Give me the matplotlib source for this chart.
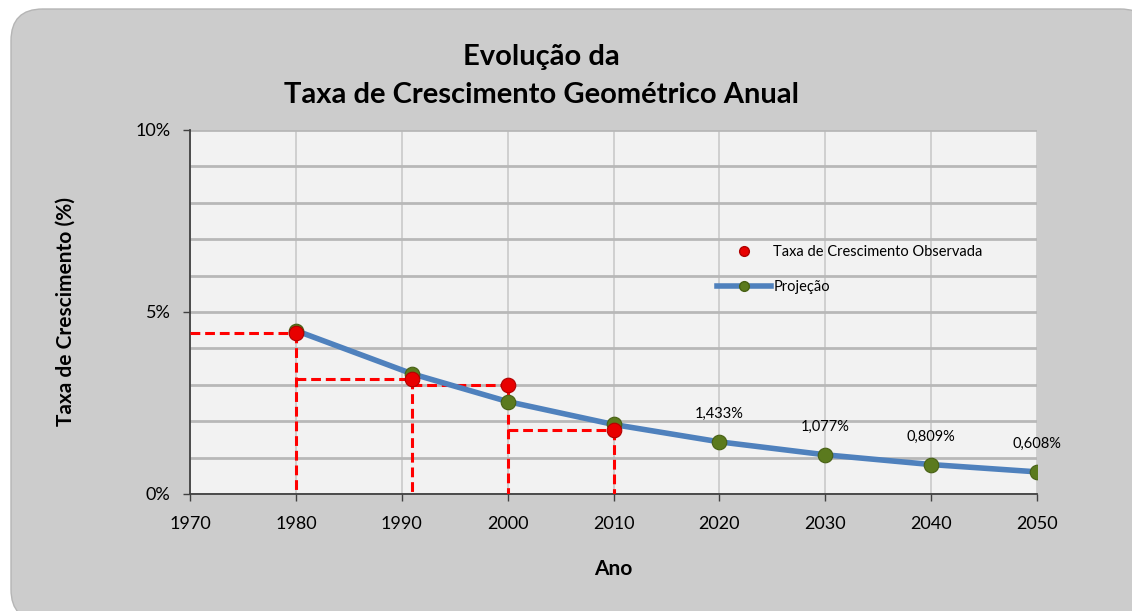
import matplotlib.pyplot as plt
from matplotlib.patches import FancyBboxPatch
from matplotlib.lines import Line2D
from matplotlib.ticker import FixedLocator, FuncFormatter

plt.rcParams['font.family'] = ['Lato', 'DejaVu Sans']

# observed growth rates (%)
obs_years = [1980, 1991, 2000, 2010]
obs_rates = [4.42, 3.16, 2.99, 1.76]

# projection (%)
proj_years = [1980, 1991, 2000, 2010, 2020, 2030, 2040, 2050]
proj_rates = [4.49, 3.30, 2.54, 1.91, 1.433, 1.077, 0.809, 0.608]
proj_labels = ['', '', '', '', '1,433%', '1,077%', '0,809%', '0,608%']

W, H = 1132, 611
fig = plt.figure(figsize=(W / 100, H / 100), dpi=100)
fig.patch.set_facecolor('white')

# rounded grey chart area
bg = FancyBboxPatch((11 / W, -10 / H), (W + 20 - 11) / W, (H + 10 - 9) / H,
                    boxstyle='round,pad=0,rounding_size=0.028',
                    mutation_aspect=W / H,
                    transform=fig.transFigure, facecolor='#cccccc',
                    edgecolor='#b5b5b5', linewidth=1, zorder=-5)
fig.patches.append(bg)

ax = fig.add_axes([190 / W, 1 - 494 / H, (1037 - 190) / W, (494 - 130) / H])
ax.set_zorder(2)
ax.set_facecolor('#f2f2f2')
ax.set_xlim(1970, 2050)
ax.set_ylim(0, 10)

ax.xaxis.set_major_locator(FixedLocator(range(1970, 2051, 10)))
ax.yaxis.set_major_locator(FixedLocator([0, 5, 10]))
ax.yaxis.set_minor_locator(FixedLocator(range(1, 10)))
ax.yaxis.set_major_formatter(FuncFormatter(lambda v, p: '%d%%' % v))
ax.grid(axis='x', which='major', color='#cacaca', linewidth=1.2)
ax.grid(axis='y', which='both', color='#b8b8b8', linewidth=2)
ax.set_axisbelow(True)
ax.tick_params(axis='both', which='major', direction='out', length=5,
               width=1, color='#404040', labelsize=13)
ax.tick_params(axis='x', pad=11)
ax.tick_params(axis='y', pad=9)
ax.tick_params(axis='y', which='minor', length=0)

for side in ['top', 'right']:
    ax.spines[side].set_visible(False)
for side in ['left', 'bottom']:
    ax.spines[side].set_color('#404040')
    ax.spines[side].set_linewidth(1.3)

# dashed guide lines for the observed values
prev = 1970
for yr, v in zip(obs_years, obs_rates):
    ax.plot([prev, yr], [v, v], color='#ff0000', linestyle=(0, (3.2, 1.6)),
            linewidth=2.2, zorder=3)
    ax.plot([yr, yr], [v, 0], color='#ff0000', linestyle=(0, (3.2, 1.6)),
            linewidth=2.2, zorder=3)
    prev = yr

ax.plot(proj_years, proj_rates, color='#4f81bd', linewidth=4,
        solid_capstyle='round', zorder=4)
ax.scatter(proj_years, proj_rates, s=110, color='#5b7a1e',
           edgecolor='#476014', linewidth=0.8, zorder=5)
ax.scatter(obs_years, obs_rates, s=110, color='#e80000',
           edgecolor='#b00000', linewidth=0.8, zorder=6)

for yr, v, lab in zip(proj_years, proj_rates, proj_labels):
    if lab:
        ax.annotate(lab, (yr, v), xytext=(0, 15), textcoords='offset points',
                    ha='center', va='bottom', fontsize=10.5)

handles = [
    Line2D([], [], linestyle='none', marker='o', markersize=7,
           color='#e80000', markeredgecolor='#b00000'),
    Line2D([], [], color='#4f81bd', linewidth=4, marker='o', markersize=7,
           markerfacecolor='#5b7a1e', markeredgecolor='#476014'),
]
ax.legend(handles, ['Taxa de Crescimento Observada', 'Projeção'],
          loc='upper left', bbox_to_anchor=(0.607, 0.72), frameon=False,
          fontsize=10.5, labelspacing=1.45, handlelength=3.7,
          handletextpad=0.15)

ax.set_xlabel('Ano', fontsize=15, fontweight='bold')
ax.set_ylabel('Taxa de Crescimento (%)', fontsize=15, fontweight='bold')
ax.xaxis.set_label_coords(0.5, (494 - 569) / 364, transform=ax.transAxes)
ax.yaxis.set_label_coords((66 - 190) / 847, 0.5, transform=ax.transAxes)
ax.xaxis.label.set_va('center')
ax.yaxis.label.set_va('center')

fig.text(541 / W, 1 - 57 / H, 'Evolução da', ha='center', va='center',
         fontsize=21, fontweight='bold')
fig.text(541 / W, 1 - 95 / H, 'Taxa de Crescimento Geométrico Anual',
         ha='center', va='center', fontsize=21, fontweight='bold')

fig.savefig('out.png', dpi=100)
